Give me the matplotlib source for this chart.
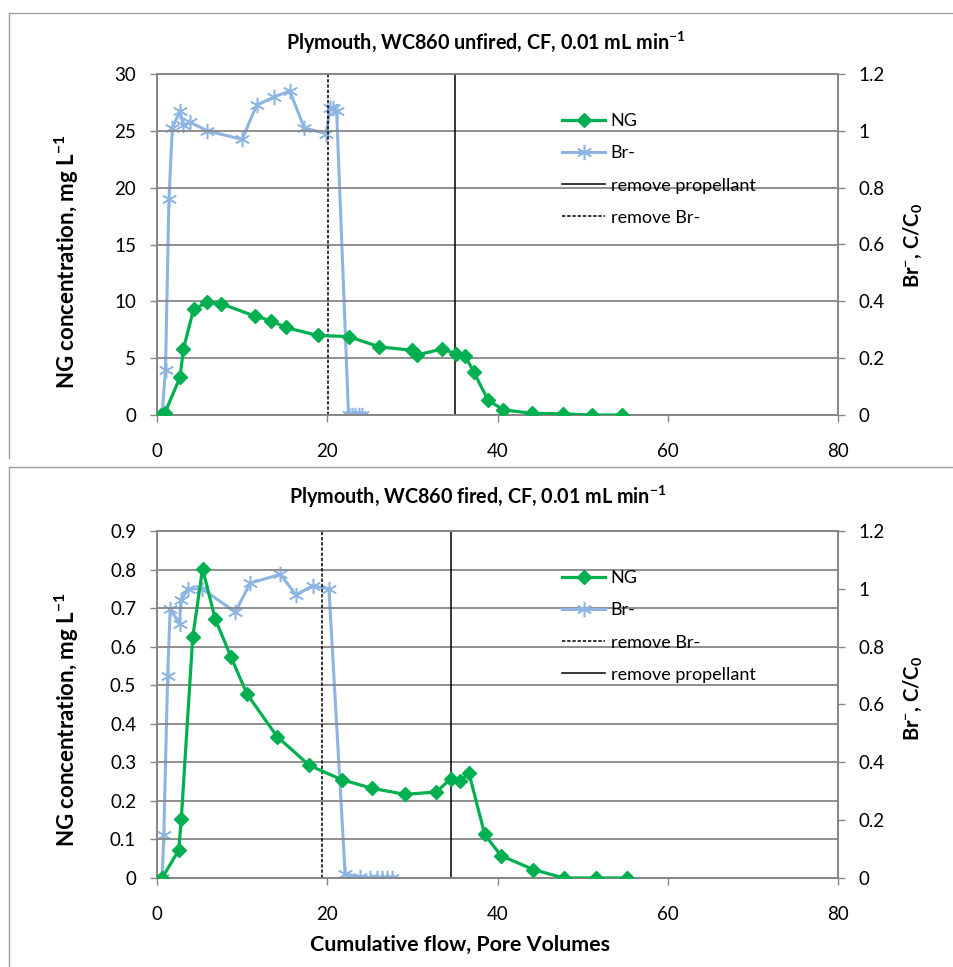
import matplotlib
matplotlib.use("Agg")
import matplotlib.pyplot as plt
from matplotlib.lines import Line2D

plt.rcParams['font.family'] = ['Lato', 'DejaVu Sans']
plt.rcParams['mathtext.fontset'] = 'custom'
plt.rcParams['mathtext.rm'] = 'Lato'
plt.rcParams['mathtext.bf'] = 'Lato:bold'
plt.rcParams['mathtext.default'] = 'regular'

# ---------------- data ----------------
titles = ["Plymouth, WC860 unfired, CF, 0.01 mL min$^{-1}$",
          "Plymouth, WC860 fired, CF, 0.01 mL min$^{-1}$"]

# top (unfired)
x_ng_top = [0.5, 0.9, 2.7, 3.1, 4.3, 5.9, 7.5, 11.5, 13.4, 15.1, 18.9, 22.5, 26.1,
            29.9, 30.6, 33.5, 35.1, 36.2, 37.2, 38.9, 40.7, 44.1, 47.7, 51.1, 54.6]
ng_top = [0.0, 0.15, 3.3, 5.8, 9.3, 9.9, 9.8, 8.7, 8.3, 7.7, 7.0, 6.9, 6.0,
          5.7, 5.3, 5.8, 5.4, 5.2, 3.8, 1.3, 0.45, 0.15, 0.1, 0.0, 0.0]
x_br_top = [0.6, 1.0, 1.4, 1.8, 2.7, 3.1, 3.9, 5.9, 10.0, 11.7, 13.8, 15.6, 17.3,
            19.9, 20.3, 20.7, 21.1, 22.5, 22.9, 23.3, 23.7, 24.1]
br_top = [0.0, 0.16, 0.76, 1.01, 1.07, 1.02, 1.03, 1.0, 0.97, 1.09, 1.12, 1.14, 1.01,
          0.99, 1.08, 1.08, 1.07, 0.0, 0.0, 0.0, 0.0, 0.0]
remove_prop_top = 35.0
remove_br_top = 20.1

# bottom (fired)
x_ng_bot = [0.6, 2.55, 2.85, 4.2, 5.35, 6.85, 8.7, 10.55, 14.1, 17.9, 21.7, 25.2,
            29.1, 32.8, 34.55, 35.6, 36.65, 38.5, 40.4, 44.2, 47.8, 51.6, 55.2]
ng_bot = [0.0, 0.072, 0.152, 0.625, 0.802, 0.671, 0.573, 0.478, 0.367, 0.292, 0.255,
          0.233, 0.217, 0.223, 0.258, 0.252, 0.272, 0.113, 0.058, 0.022, 0.0, 0.0, 0.0]
x_br_bot = [0.6, 0.8, 1.25, 1.55, 2.65, 2.8, 3.65, 5.3, 9.2, 10.95, 14.5, 16.3, 18.3,
            20.2, 22.1, 23.9, 25.0, 25.8, 26.4, 27.0, 27.6]
br_bot = [0.0, 0.15, 0.70, 0.93, 0.88, 0.96, 1.0, 1.0, 0.92, 1.02, 1.05, 0.98, 1.01,
          1.0, 0.013, 0.005, 0.0, 0.0, 0.0, 0.0, 0.0]
remove_prop_bot = 34.5
remove_br_bot = 19.4

x_ticks = [0, 20, 40, 60, 80]
left_ticks_top = [0, 5, 10, 15, 20, 25, 30]
left_ticks_bot = [0, 0.1, 0.2, 0.3, 0.4, 0.5, 0.6, 0.7, 0.8, 0.9]
right_ticks = [0, 0.2, 0.4, 0.6, 0.8, 1.0, 1.2]

# ---------------- style ----------------
W, H = 954, 967
GREEN = '#00B050'
BLUE = '#8DB4E2'
GRAY = '#878787'
fig = plt.figure(figsize=(W / 100, H / 100), dpi=100)


def fx(px):
    return px / W


def fy(py):
    return 1 - py / H


# chart area borders (Excel chart frames)
for (y0, y1) in [(13, 458), (467, 967)]:
    fig.add_artist(Line2D([fx(9), fx(9)], [fy(y0), fy(y1)], color='#A0A0A0', lw=1.0))
    fig.add_artist(Line2D([fx(9), fx(954)], [fy(y0), fy(y0)], color='#A0A0A0', lw=1.0))

TICK_FS = 13.5


def make_panel(top_px, bot_px, title, title_x, title_y, xng, ng, xbr, br, lticks, lmax,
               xprop, xbrem, legend_order, ylab_y, rlab_y, lfmt):
    ax = fig.add_axes([fx(157), fy(bot_px), fx(838) - fx(157), fy(top_px) - fy(bot_px)])
    ax2 = ax.twinx()
    ax.set_xlim(0, 80)
    ax.set_ylim(0, lmax)
    ax2.set_ylim(0, 1.2)
    ax.set_xticks(x_ticks)
    ax.set_xticklabels([str(v) for v in x_ticks])
    ax.set_yticks(lticks)
    ax.set_yticklabels([lfmt(v) for v in lticks])
    ax2.set_yticks(right_ticks)
    ax2.set_yticklabels(['0', '0.2', '0.4', '0.6', '0.8', '1', '1.2'])
    ax.grid(axis='y', color=GRAY, lw=1.3)
    ax.set_axisbelow(True)
    for a in (ax, ax2):
        for s in a.spines.values():
            s.set_color(GRAY)
            s.set_linewidth(1.3)
    ax.tick_params(axis='both', direction='out', length=5, width=1.0, color=GRAY,
                   labelsize=TICK_FS, labelcolor='black')
    ax.tick_params(axis='x', pad=15)
    ax.tick_params(axis='y', pad=10)
    ax2.tick_params(axis='y', direction='out', length=5, width=1.0, color=GRAY,
                    labelsize=TICK_FS, labelcolor='black', pad=10)

    l_prop = ax.axvline(xprop, color='black', lw=1.1, zorder=2)
    l_brem = ax.axvline(xbrem, color='black', lw=1.1, ls=(0, (2.2, 1.2)), zorder=2)
    l_br, = ax2.plot(xbr, br, color=BLUE, lw=2.2, marker=(6, 2, 0), ms=11, mew=1.1,
                     mec=BLUE, zorder=3)
    ax.set_zorder(ax2.get_zorder() + 1)
    ax.patch.set_visible(False)
    l_ng, = ax.plot(xng, ng, color=GREEN, lw=2.3, marker='D', ms=7.5, mec=GREEN,
                    zorder=4)

    handles = {'NG': l_ng, 'Br-': l_br, 'remove propellant': l_prop,
               'remove Br-': l_brem}
    ax.legend([handles[k] for k in legend_order], legend_order,
              loc='upper left', bbox_to_anchor=(fx(562), fy(top_px + 39)),
              bbox_transform=fig.transFigure, frameon=False,
              fontsize=13, handlelength=2.4, handletextpad=0.3,
              labelspacing=0.9, borderpad=0, borderaxespad=0)

    fig.text(fx(title_x), fy(title_y), title, ha='center', va='center',
             fontsize=14.2, fontweight='bold')
    fig.text(fx(67), fy(ylab_y), 'NG concentration, mg L$^{\\mathbf{-1}}$',
             rotation=90, ha='center', va='center', fontsize=16, fontweight='bold')
    fig.text(fx(913), fy(rlab_y), 'Br$^{\\mathbf{-}}$, C/C$_{\\mathbf{0}}$',
             rotation=90, ha='center', va='center', fontsize=14.5, fontweight='bold')
    return ax


make_panel(74, 415, titles[0], 486, 43, x_ng_top, ng_top, x_br_top, br_top,
           left_ticks_top, 30, remove_prop_top, remove_br_top,
           ['NG', 'Br-', 'remove propellant', 'remove Br-'], 262, 245,
           lambda v: str(int(v)))
make_panel(531, 878, titles[1], 478, 497, x_ng_bot, ng_bot, x_br_bot, br_bot,
           left_ticks_bot, 0.9, remove_prop_bot, remove_br_bot,
           ['NG', 'Br-', 'remove Br-', 'remove propellant'], 720, 698,
           lambda v: '0' if v == 0 else f'{v:.1f}')

fig.text(fx(460), fy(945), 'Cumulative flow, Pore Volumes', ha='center', va='center',
         fontsize=15.4, fontweight='bold')

fig.savefig('out.png', dpi=100)
